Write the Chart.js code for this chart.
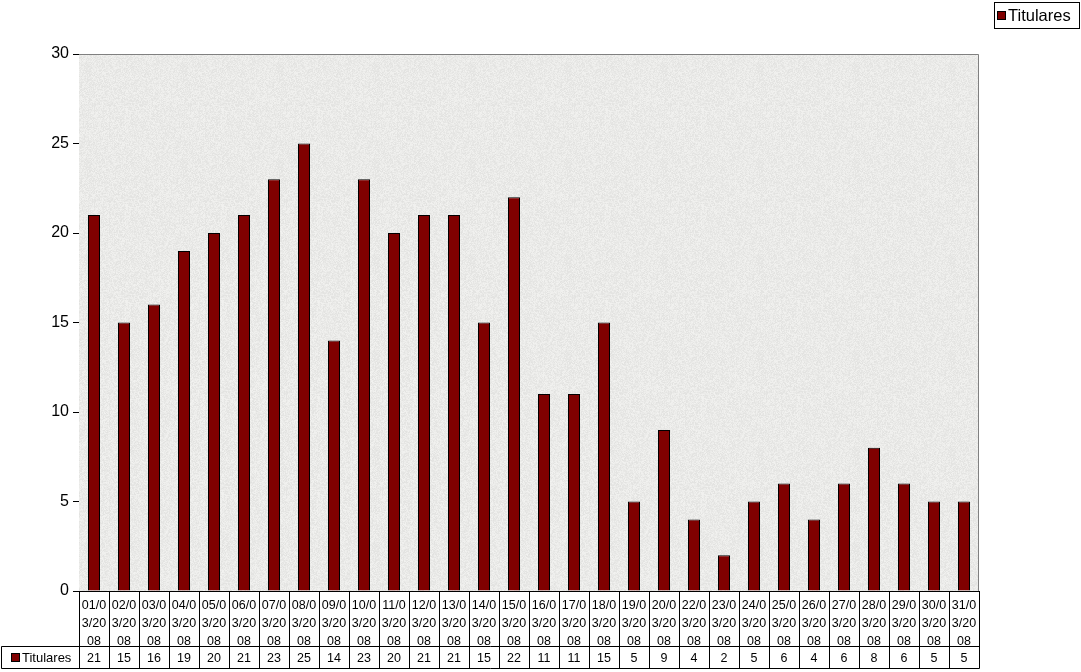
<!DOCTYPE html>
<html lang="es">
<head>
    <meta charset="UTF-8">
    <title>Titulares</title>
    <script src="https://cdn.jsdelivr.net/npm/chart.js"></script>
    <style>
        html, body { margin: 0; padding: 0; background: #ffffff; }
        .chart-container { position: relative; width: 1081px; height: 672px; }
    </style>
</head>
<body>
    <div class="chart-container">
        <canvas id="chartCanvas"></canvas>
    </div>

    <script>
        const seriesName = 'Titulares';

        const dates = [
            '01/03/2008', '02/03/2008', '03/03/2008', '04/03/2008', '05/03/2008',
            '06/03/2008', '07/03/2008', '08/03/2008', '09/03/2008', '10/03/2008',
            '11/03/2008', '12/03/2008', '13/03/2008', '14/03/2008', '15/03/2008',
            '16/03/2008', '17/03/2008', '18/03/2008', '19/03/2008', '20/03/2008',
            '22/03/2008', '23/03/2008', '24/03/2008', '25/03/2008', '26/03/2008',
            '27/03/2008', '28/03/2008', '29/03/2008', '30/03/2008', '31/03/2008'
        ];

        const titulares = [21, 15, 16, 19, 20, 21, 23, 25, 14, 23, 20, 21, 21, 15, 22,
                           11, 11, 15, 5, 9, 4, 2, 5, 6, 4, 6, 8, 6, 5, 5];

        const yTicks = [0, 5, 10, 15, 20, 25, 30];

        const barColor = '#800000';
        const font = 'Arial, "Liberation Sans", sans-serif';

        // narrow cells in the data table wrap the date every four characters
        const wrapLabel = (s) => [s.slice(0, 4), s.slice(4, 8), s.slice(8)];

        // light grey granite-like fill for the plot area (deterministic speckle)
        const makeTexture = () => {
            const c = document.createElement('canvas');
            c.width = 96; c.height = 96;
            const g = c.getContext('2d');
            let seed = 7;
            const next = () => { seed = (seed * 16807) % 2147483647; return seed / 2147483647; };
            for (let y = 0; y < 96; y++) {
                for (let x = 0; x < 96; x++) {
                    const v = Math.round(226 + next() * 16);
                    g.fillStyle = `rgb(${v},${v},${v - 2})`;
                    g.fillRect(x, y, 1, 1);
                }
            }
            return c;
        };

        const tablePlugin = {
            id: 'tablePlugin',
            beforeDatasetsDraw(chart) {
                const { ctx, chartArea: a } = chart;
                ctx.save();
                ctx.fillStyle = ctx.createPattern(makeTexture(), 'repeat');
                ctx.fillRect(a.left, a.top, a.right - a.left, a.bottom - a.top);
                // top and right frame of the plot area
                ctx.strokeStyle = '#808080';
                ctx.lineWidth = 1;
                ctx.beginPath();
                ctx.moveTo(a.left, a.top + 0.5);
                ctx.lineTo(a.right - 0.5, a.top + 0.5);
                ctx.lineTo(a.right - 0.5, a.bottom);
                ctx.stroke();
                ctx.restore();
            },
            afterDraw(chart) {
                const { ctx, chartArea: a, scales: { x } } = chart;
                const step = (a.right - a.left) / dates.length;
                const rowTop = 646.5, rowBottom = 668.5, left = 1.5;
                ctx.save();
                ctx.strokeStyle = '#000000';
                ctx.lineWidth = 1;
                ctx.beginPath();
                for (let i = 0; i <= dates.length; i++) {
                    const px = Math.round(a.left + i * step) + 0.5;
                    ctx.moveTo(px, a.bottom);
                    ctx.lineTo(px, rowBottom);
                }
                ctx.moveTo(left, rowTop); ctx.lineTo(a.right + 0.5, rowTop);
                ctx.moveTo(left, rowBottom); ctx.lineTo(a.right + 0.5, rowBottom);
                ctx.moveTo(left, rowTop); ctx.lineTo(left, rowBottom);
                ctx.stroke();

                // values row
                ctx.fillStyle = '#000000';
                ctx.font = `12.5px ${font}`;
                ctx.textAlign = 'center';
                ctx.textBaseline = 'middle';
                titulares.forEach((v, i) => {
                    ctx.fillText(String(v), x.getPixelForValue(i), (rowTop + rowBottom) / 2 + 1);
                });

                // row header with key
                ctx.fillStyle = barColor;
                ctx.fillRect(12, 654, 7, 7);
                ctx.strokeRect(11.5, 653.5, 8, 8);
                ctx.fillStyle = '#000000';
                ctx.font = `13px ${font}`;
                ctx.textAlign = 'left';
                ctx.fillText(seriesName, 22, 658.5);

                // legend box, top right
                ctx.strokeRect(994.5, 2.5, 85, 26);
                ctx.fillStyle = barColor;
                ctx.fillRect(998, 12, 7, 7);
                ctx.strokeRect(997.5, 11.5, 8, 8);
                ctx.fillStyle = '#000000';
                ctx.font = `16.5px ${font}`;
                ctx.fillText(seriesName, 1008, 16);
                ctx.restore();
            }
        };

        const ctx = document.getElementById('chartCanvas').getContext('2d');
        new Chart(ctx, {
            type: 'bar',
            data: {
                labels: dates.map(wrapLabel),
                datasets: [{
                    label: seriesName,
                    data: titulares,
                    backgroundColor: barColor,
                    borderColor: '#000000',
                    borderWidth: 1,
                    barPercentage: 0.4,
                    categoryPercentage: 1.0
                }]
            },
            options: {
                responsive: true,
                maintainAspectRatio: false,
                animation: false,
                layout: { padding: { top: 54, right: 102, bottom: 0, left: 0 } },
                plugins: {
                    legend: { display: false },
                    tooltip: { enabled: false }
                },
                scales: {
                    x: {
                        grid: { display: true, drawOnChartArea: false, drawTicks: false },
                        border: { display: true, color: '#000000', width: 1 },
                        ticks: {
                            color: '#000000',
                            font: { family: font, size: 12.5, lineHeight: 1.47 },
                            padding: 5,
                            maxRotation: 0,
                            autoSkip: false
                        },
                        afterFit: (scale) => { scale.height = 81; }
                    },
                    y: {
                        min: 0,
                        max: 30,
                        afterBuildTicks: (scale) => { scale.ticks = yTicks.map(v => ({ value: v })); },
                        grid: { drawOnChartArea: false, drawTicks: true, tickLength: 6, color: '#000000' },
                        border: { display: true, color: '#000000', width: 1 },
                        ticks: {
                            color: '#000000',
                            font: { family: font, size: 16 },
                            padding: 4
                        },
                        afterFit: (scale) => { scale.width = 79; }
                    }
                }
            },
            plugins: [tablePlugin]
        });
    </script>
</body>
</html>
